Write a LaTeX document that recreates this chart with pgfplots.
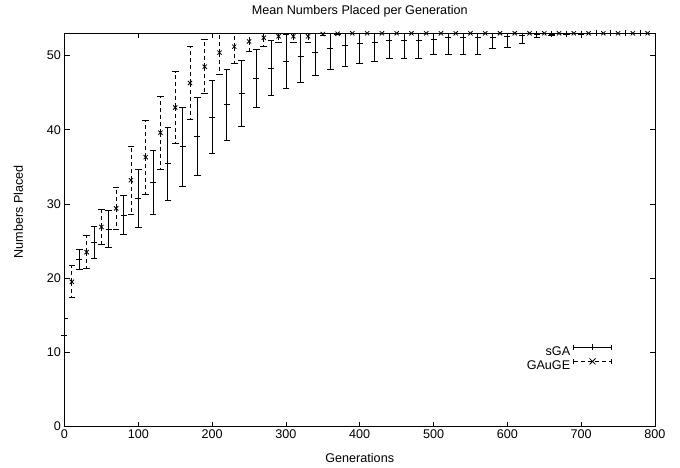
\documentclass[border=0pt]{standalone}
\usepackage{pgfplots}
\pgfplotsset{compat=1.18}
\usepackage{fontspec}
\setmainfont{Liberation Sans}
\newcommand\gf{\fontsize{12.6}{14}\selectfont}

% generation, mean, standard deviation
\pgfplotstableread{
x y err
0 12.3 2.3
20 22.5 1.35
40 24.8 2.15
60 26.6 2.5
80 28.5 2.65
100 30.7 3.9
120 32.9 4.3
140 35.4 4.9
160 37.7 5.3
180 39.1 5.2
200 41.7 4.9
220 43.4 4.8
240 44.9 4.5
260 46.9 3.9
280 48.3 3.7
300 49.2 3.6
320 49.9 3.5
340 50.4 3.1
360 51.0 2.8
380 51.4 2.8
400 51.7 2.7
420 51.8 2.6
440 52.1 2.5
460 52.1 2.5
480 52.1 2.5
500 52.2 2.1
520 52.4 2.3
540 52.5 2.3
560 52.5 2.3
580 52.5 1.6
600 52.6 1.5
620 52.7 1.0
640 52.85 0.4
660 52.9 0.2
680 52.95 0.1
700 52.95 0.1
720 53 0.05
740 53 0.05
760 53 0.05
780 53 0.05
}\sga

\pgfplotstableread{
x y err
10 19.5 2.15
30 23.5 2.25
50 26.9 2.3
70 29.4 2.85
90 33.2 4.6
110 36.3 5.0
130 39.6 4.95
150 43.0 4.85
170 46.3 4.9
190 48.5 3.65
210 50.4 2.9
230 51.2 2.2
250 51.9 1.3
270 52.4 1.2
290 52.6 0.8
310 52.6 0.8
330 52.6 0.8
350 52.9 0.2
370 52.95 0.1
390 53 0.05
410 53 0.05
430 53 0
450 53 0
470 53 0
490 53 0
510 53 0
530 53 0
550 53 0
570 53 0
590 53 0
610 53 0
630 53 0
650 53 0
670 53 0
690 53 0
710 53 0
730 53 0
750 53 0
770 53 0
790 53 0
}\gauge

\begin{document}
\begin{tikzpicture}[x=1pt,y=1pt]
\useasboundingbox (-64.5,-40.5) rectangle (615.5,426.5);
\begin{axis}[
  at={(0,0)}, anchor=south west,
  scale only axis, width=590.5pt, height=393.2pt,
  xmin=0, xmax=800, ymin=0, ymax=53,
  xtick={0,100,...,800}, ytick={0,10,...,50},
  tick align=inside, major tick length=5pt,
  tick style={black, line width=0.8pt},
  axis line style={line width=0.9pt},
  /pgf/number format/assume math mode=true,
  tick label style={font=\gf},
  title={Mean Numbers Placed per Generation},
  title style={font=\gf, at={(axis description cs:0.5,1.042)}, anchor=center},
  xlabel={Generations},
  xlabel style={font=\gf, at={(axis description cs:0.5,-0.08)}, anchor=center},
  ylabel={Numbers Placed},
  ylabel style={font=\gf, at={(axis description cs:-0.078,0.5455)}, anchor=center, rotate=0},
  legend style={draw=none, fill=none, font=\gf, at={(axis cs:742,11.2)}, anchor=north east,
    legend cell align=right, row sep=3pt, inner sep=0pt,
    nodes={inner ysep=0pt, inner xsep=3pt, text height=9pt, text depth=0pt}},
  legend plot pos=right,
]
\addplot[only marks, mark=+, mark size=3pt, black, line width=0.8pt,
  error bars/.cd, y dir=both, y explicit,
  error mark options={rotate=90, mark size=3.3pt, solid, line width=0.8pt},
  error bar style={line width=0.8pt, solid},
  /pgfplots/legend image code/.code={%
    \draw[line width=0.8pt] (0pt,3.5pt) -- (38pt,3.5pt);
    \draw[line width=0.8pt] (0pt,1pt) -- (0pt,6pt);
    \draw[line width=0.8pt] (38pt,1pt) -- (38pt,6pt);
    \draw[line width=0.8pt] (19pt,0.5pt) -- (19pt,6.5pt);
  }]
  table[x=x, y=y, y error=err] {\sga};
\addplot[only marks, mark=x, mark size=3pt, black, line width=0.8pt,
  error bars/.cd, y dir=both, y explicit,
  error mark options={rotate=90, mark size=3.3pt, solid, line width=0.8pt},
  error bar style={line width=0.8pt, dash pattern=on 4pt off 3pt},
  /pgfplots/legend image code/.code={%
    \draw[line width=0.8pt, dash pattern=on 4pt off 3pt] (0pt,3.5pt) -- (38pt,3.5pt);
    \draw[line width=0.8pt] (0pt,1pt) -- (0pt,6pt);
    \draw[line width=0.8pt] (38pt,1pt) -- (38pt,6pt);
    \draw[line width=0.8pt] (16pt,0.5pt) -- (22pt,6.5pt) (16pt,6.5pt) -- (22pt,0.5pt);
  }]
  table[x=x, y=y, y error=err] {\gauge};
\legend{sGA,GAuGE}
\end{axis}
\end{tikzpicture}
\end{document}
